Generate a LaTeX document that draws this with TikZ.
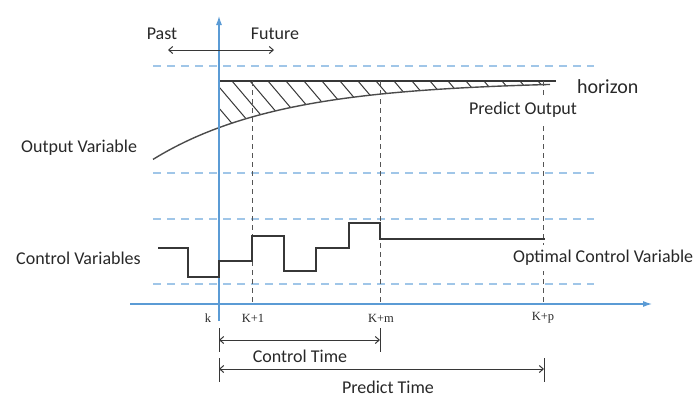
\documentclass[tikz,border=0pt]{standalone}
\usepackage{fontspec}
\setmainfont{Carlito}
\newfontfamily\tickfont{Liberation Serif}
\usetikzlibrary{arrows.meta}

\definecolor{axisblue}{RGB}{91,155,213}
\definecolor{gridblue}{RGB}{160,198,232}
\definecolor{ink}{RGB}{55,55,55}
\definecolor{textink}{RGB}{40,40,40}

\begin{document}
\begin{tikzpicture}[x=1pt,y=-1pt,
  lbl/.style={font=\fontsize{18}{21}\selectfont, text=textink, inner sep=0pt},
  masked/.style={fill=white, inner xsep=1pt, inner ysep=5pt},
  biglbl/.style={font=\fontsize{20}{23}\selectfont, text=textink, inner sep=0pt},
  ticklbl/.style={font=\tickfont\fontsize{12.5}{14}\selectfont, text=textink, inner sep=0pt},
  gridline/.style={gridblue, line width=1.4pt, dash pattern=on 8pt off 6pt},
  axisline/.style={axisblue, line width=1.1pt, -{Latex[length=9pt,width=6pt]}},
  guide/.style={ink!85, line width=0.9pt, dash pattern=on 5pt off 4pt},
  ctrl/.style={ink, line width=1.5pt},
  curve/.style={ink!90, line width=1.4pt},
  hatch/.style={ink, line width=1pt},
  span/.style={ink, line width=1pt, {Straight Barb[length=4pt,width=7pt]}-{Straight Barb[length=4pt,width=7pt]}},
  endbar/.style={ink, line width=1pt}]

\useasboundingbox (0,0) rectangle (694,397);

% key coordinates
\coordinate (Ax0) at (130,304);
\coordinate (Ax1) at (652,304);
\coordinate (Ay0) at (219,321);
\coordinate (Ay1) at (219,16);

% horizontal dashed reference levels
\foreach \yy/\nm in {66/g1,173/g2,219/g3,284/g4}{
  \coordinate (\nm a) at (153,\yy);
  \coordinate (\nm b) at (594,\yy);
  \draw[gridline] (\nm a) -- (\nm b);
}

% hatched region between the reference line and the predicted output
\begin{scope}
  \clip (219,81) -- (552,81) -- plot[domain=552:219,samples=60] (\x,{81+47*exp(-(\x-218)/127)}) -- cycle;
  \foreach \s in {160,178,...,560}{
    \draw[hatch] (\s,81) -- ++(56,66);
  }
\end{scope}

% reference line and predicted output curve
\coordinate (R0) at (219,81);
\coordinate (R1) at (556,81);
\draw[ink, line width=1.3pt] (R0) -- (R1);
\draw[curve] plot[domain=153:550,samples=80] (\x,{81+47*exp(-(\x-218)/127)});

% instant guides
\foreach \xx/\nm in {252/t1,380/tm,543/tp}{
  \coordinate (\nm top) at (\xx,81);
  \coordinate (\nm bot) at (\xx,304);
  \draw[guide] (\nm top) -- (\nm bot);
}

% axes
\draw[axisline] (Ax0) -- (Ax1);
\draw[axisline] (Ay0) -- (Ay1);

% control moves
\draw[ctrl] (158,248) -- (188,248) -- (188,277) -- (219,277) -- (219,261)
  -- (252,261) -- (252,236) -- (284,236) -- (284,271) -- (316,271)
  -- (316,248) -- (349,248) -- (349,223) -- (380,223) -- (380,239) -- (545,239);

% past / future
\coordinate (P0) at (168,50);
\coordinate (P1) at (274,50);
\draw[span] (P0) -- (P1);
\node[lbl] (past) at (162,34) {Past};
\node[lbl] (future) at (275,34) {Future};

% labels
\node[lbl, anchor=west] (outvar) at (21,148) {Output Variable};
\node[lbl, anchor=west] (ctrlvar) at (16,258) {Control Variables};
\node[lbl, masked] (predout) at (523,110) {Predict Output};
\node[biglbl, anchor=west] (horizon) at (577,87) {horizon};
\node[lbl, masked, anchor=west] (optvar) at (512,258) {Optimal Control Variable};

% time marks
\node[ticklbl] (lk)  at (208,318) {k};
\node[ticklbl] (l1)  at (253,318) {K+1};
\node[ticklbl] (lm)  at (381,318) {K+m};
\node[ticklbl] (lp)  at (543,318) {K+p};

% control time span
\coordinate (c0t) at (219,328); \coordinate (c0b) at (219,352);
\coordinate (c1t) at (380,328); \coordinate (c1b) at (380,352);
\draw[endbar] (c0t) -- (c0b);
\draw[endbar] (c1t) -- (c1b);
\coordinate (c0) at (219,340); \coordinate (c1) at (380,340);
\draw[span] (c0) -- (c1);
\node[lbl] (ctime) at (300,356) {Control Time};

% predict time span
\coordinate (p0t) at (219,358); \coordinate (p0b) at (219,382);
\coordinate (p1t) at (544,358); \coordinate (p1b) at (544,382);
\draw[endbar] (p0t) -- (p0b);
\draw[endbar] (p1t) -- (p1b);
\coordinate (p0) at (219,369); \coordinate (p1) at (544,369);
\draw[span] (p0) -- (p1);
\node[lbl] (ptime) at (388,387) {Predict Time};

\end{tikzpicture}
\end{document}
